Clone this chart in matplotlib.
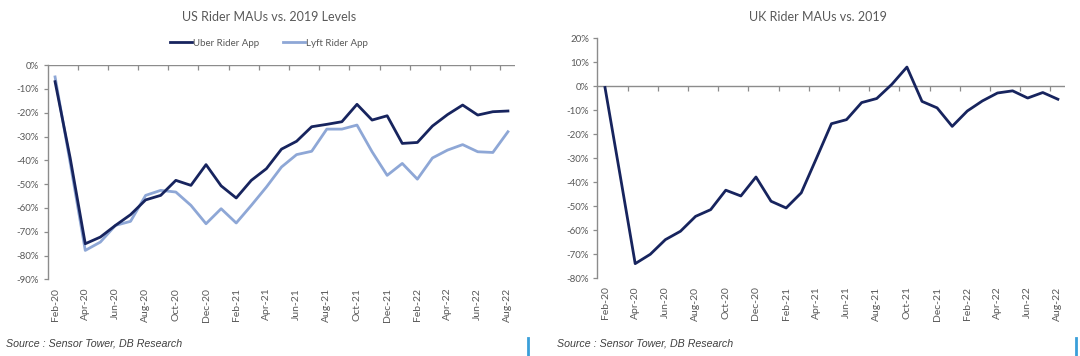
import numpy as np
import matplotlib
matplotlib.use("Agg")
import matplotlib.pyplot as plt
from matplotlib.lines import Line2D
from matplotlib.ticker import FuncFormatter

months = ["Feb-20", "Mar-20", "Apr-20", "May-20", "Jun-20", "Jul-20", "Aug-20", "Sep-20",
          "Oct-20", "Nov-20", "Dec-20", "Jan-21", "Feb-21", "Mar-21", "Apr-21", "May-21",
          "Jun-21", "Jul-21", "Aug-21", "Sep-21", "Oct-21", "Nov-21", "Dec-21", "Jan-22",
          "Feb-22", "Mar-22", "Apr-22", "May-22", "Jun-22", "Jul-22", "Aug-22"]

# US rider MAUs vs 2019 (%)
uber_us = [-7, -39, -75.0, -72.2, -67.3, -62.8, -56.6, -54.7, -48.4, -50.5,
           -41.8, -50.7, -55.8, -48.4, -43.5, -35.3, -32.0, -25.9, -24.9, -23.8,
           -16.5, -23.1, -21.3, -32.9, -32.5, -25.6, -20.8, -16.8, -21.0, -19.6, -19.3]
lyft_us = [-5, -41, -77.8, -74.3, -67.3, -65.6, -54.7, -52.6, -53.3, -58.9,
           -66.6, -60.3, -66.3, -58.9, -51.2, -42.8, -37.6, -36.2, -26.9, -26.9,
           -25.2, -36.4, -46.3, -41.3, -47.9, -39.0, -35.7, -33.4, -36.4, -36.7, -28.0]

# UK rider MAUs vs 2019 (%)
uk = [-0.5, -37, -73.9, -70.0, -63.9, -60.4, -54.2, -51.4, -43.3, -45.7,
      -37.8, -47.9, -50.7, -44.4, -30.1, -15.6, -13.9, -6.8, -5.1, 0.8,
      8.0, -6.3, -9.0, -16.7, -10.3, -6.1, -2.8, -1.9, -4.9, -2.6, -5.4]

NAVY = "#17245e"
LIGHT = "#8ea7d6"
GREY = "#595959"
AXIS = "#8c8c8c"

plt.rcParams["font.family"] = ["Lato", "DejaVu Sans"]

fig = plt.figure(figsize=(10.8, 3.56), dpi=100)
ax1 = fig.add_axes([0.044, 0.2149, 0.4333, 0.6025])
ax2 = fig.add_axes([0.5532, 0.2183, 0.4333, 0.6742])

x = np.arange(len(months))


def style(ax, ylo, yhi):
    ax.set_xlim(-0.5, len(months) - 0.5)
    ax.set_ylim(ylo, yhi)
    for s in ["top", "right", "bottom"]:
        ax.spines[s].set_visible(False)
    ax.spines["left"].set_color(AXIS)
    ax.spines["left"].set_linewidth(1.0)
    ax.axhline(0, color=AXIS, lw=1.0, zorder=1)
    # category ticks on the zero line, every two months
    for b in np.arange(1.5, len(months) - 0.5, 2):
        ax.plot([b], [0], marker=3, ms=3.5, color=AXIS, mew=0.9, zorder=1,
                clip_on=False)
    ax.set_yticks(np.arange(ylo, yhi + 1, 10))
    ax.yaxis.set_major_formatter(FuncFormatter(lambda v, p: f"{v:.0f}%"))
    ax.tick_params(axis="y", length=3, width=0.9, color=AXIS, labelsize=7,
                   labelcolor=GREY, pad=3)
    ax.set_xticks(x[::2])
    ax.set_xticklabels(months[::2], rotation=90)
    ax.tick_params(axis="x", length=0, labelsize=7.5, labelcolor=GREY, pad=6)


style(ax1, -90, 0)
style(ax2, -80, 20)

ax1.plot(x, uber_us, color=NAVY, lw=2.0, label="Uber Rider App", zorder=3)
ax1.plot(x, lyft_us, color=LIGHT, lw=2.0, label="Lyft Rider App", zorder=2)
ax2.plot(x, uk, color=NAVY, lw=2.0, zorder=3)

fig.text(0.249, 0.953, "US Rider MAUs vs. 2019 Levels", ha="center", va="center",
         fontsize=9, color=GREY)
fig.text(0.757, 0.953, "UK Rider MAUs vs. 2019", ha="center", va="center",
         fontsize=9, color=GREY)

handles = [Line2D([], [], color=NAVY, lw=2.0), Line2D([], [], color=LIGHT, lw=2.0)]
fig.legend(handles, ["Uber Rider App", "Lyft Rider App"], loc="center",
           bbox_to_anchor=(0.249, 0.879), ncol=2, frameon=False, fontsize=7,
           handlelength=2.2, handletextpad=0.1, columnspacing=2.5,
           labelcolor=GREY)

src = "Source : Sensor Tower, DB Research"
fig.text(0.006, 0.034, src, ha="left", va="center", fontsize=7.7, style="italic",
         color="#404040", family="Liberation Sans")
fig.text(0.516, 0.034, src, ha="left", va="center", fontsize=7.7, style="italic",
         color="#404040", family="Liberation Sans")

for bx in (0.4886, 0.9965):
    fig.add_artist(Line2D([bx, bx], [0.0, 0.05], color="#3a9fd9", lw=2.0))

fig.savefig("out.png", dpi=100, facecolor="white")
